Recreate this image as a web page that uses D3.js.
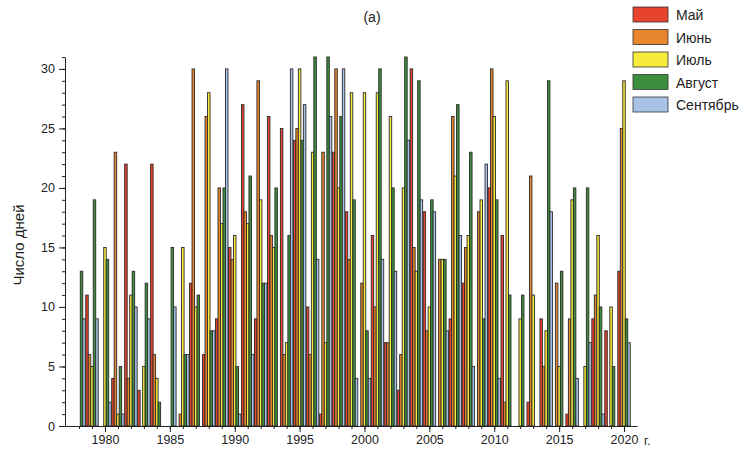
<!DOCTYPE html>
<html lang="ru">
<head>
    <meta charset="UTF-8">
    <title>Число дней по месяцам</title>
    <script src="https://d3js.org/d3.v7.min.js"></script>
    <style>
        body {
            margin: 0;
            background: #fff;
            font-family: "Liberation Sans", Arial, sans-serif;
        }
        svg {
            display: block;
        }
    </style>
</head>
<body>
    <div id="container"></div>

    <script>
        // years on the x axis
        const years = d3.range(1978, 2021);

        // months shown in the legend
        const months = ['Май', 'Июнь', 'Июль', 'Август', 'Сентябрь'];

        // number of days per year, one array per month
        const may = [0,11,0,4,22,3,22,0,0,12,6,9,15,27,9,26,25,24,10,1,23,18,0,16,7,3,30,18,0,9,12,0,20,16,0,2,9,0,1,0,9,8,13];
        const june = [0,6,0,23,4,0,6,0,1,30,26,20,14,18,29,16,6,25,6,23,30,14,12,10,7,6,15,8,14,26,15,18,30,2,0,21,5,12,9,0,11,0,25];
        const july = [0,5,15,1,11,5,4,0,15,10,28,17,16,17,19,15,7,30,23,7,20,28,28,28,26,20,13,10,14,21,16,19,26,29,9,11,8,5,19,5,16,10,29];
        const august = [13,19,14,5,13,12,2,15,6,11,8,20,5,21,12,20,16,24,31,31,26,19,8,30,20,31,29,19,14,27,23,9,19,11,11,0,29,13,20,20,10,5,9];
        const september = [9,9,2,1,10,9,0,10,6,0,8,30,1,6,12,0,30,27,14,26,30,4,4,14,13,24,19,18,8,16,5,22,4,0,0,0,18,0,4,7,1,0,7];

        // axis ticks
        const yMajor = [0, 5, 10, 15, 20, 25, 30];
        const xMajor = [1980, 1985, 1990, 1995, 2000, 2005, 2010, 2015, 2020];

        const colors = ['#e8432d', '#e8862e', '#f7eb3b', '#3d8f3d', '#a7c3e6'];
        const series = [may, june, july, august, september];

        const width = 753, height = 452;

        const svg = d3.select('#container').append('svg')
            .attr('width', width)
            .attr('height', height);

        // scales
        const x = d3.scaleLinear()
            .domain([1976.92, 2021.0])
            .range([65, 637]);

        const y = d3.scaleLinear()
            .domain([0, 31])
            .range([426, 57]);

        const barW = 2.5;

        // bars, one group per month
        series.forEach(function(values, m) {
            svg.append('g')
                .selectAll('rect')
                .data(values.map(function(v, i) { return {year: years[i], value: v}; })
                    .filter(function(d) { return d.value > 0; }))
                .enter()
                .append('rect')
                .attr('x', function(d) { return x(d.year) + (m - 2.5) * barW; })
                .attr('y', function(d) { return y(d.value); })
                .attr('width', barW)
                .attr('height', function(d) { return y(0) - y(d.value); })
                .attr('fill', colors[m])
                .attr('stroke', '#2a2a2a')
                .attr('stroke-width', 0.9);
        });

        // y axis: minor and major ticks
        svg.append('g')
            .attr('transform', 'translate(65,0)')
            .call(d3.axisLeft(y).tickValues(d3.range(0, 32)).tickSize(3).tickFormat(''))
            .call(g => g.select('.domain').remove());

        svg.append('g')
            .attr('transform', 'translate(65,0)')
            .call(d3.axisLeft(y).tickValues(yMajor).tickSize(6).tickSizeOuter(0).tickPadding(4));

        // x axis: minor and major ticks
        svg.append('g')
            .attr('transform', 'translate(0,426)')
            .call(d3.axisBottom(x).tickValues(years).tickSize(3).tickFormat(''))
            .call(g => g.select('.domain').remove());

        svg.append('g')
            .attr('transform', 'translate(0,426)')
            .call(d3.axisBottom(x).tickValues(xMajor).tickSize(6).tickSizeOuter(0).tickFormat(d3.format('d')).tickPadding(3));

        svg.selectAll('.tick text')
            .attr('font-size', 12.5)
            .attr('font-family', '"Liberation Sans", Arial, sans-serif')
            .attr('fill', '#222');

        svg.selectAll('.domain, .tick line')
            .attr('stroke', '#222');

        // unit on the x axis
        svg.append('text')
            .attr('x', 644)
            .attr('y', 445)
            .attr('font-size', 12.5)
            .attr('fill', '#222')
            .text('г.');

        // y axis title
        svg.append('text')
            .attr('transform', 'translate(24,245) rotate(-90)')
            .attr('text-anchor', 'middle')
            .attr('font-size', 15)
            .attr('fill', '#222')
            .text('Число дней');

        // title
        svg.append('text')
            .attr('x', 372)
            .attr('y', 22)
            .attr('text-anchor', 'middle')
            .attr('font-size', 14)
            .attr('fill', '#222')
            .text('(a)');

        // legend
        const legend = svg.append('g');
        months.forEach(function(name, i) {
            legend.append('rect')
                .attr('x', 633)
                .attr('y', 7 + i * 22.5)
                .attr('width', 35)
                .attr('height', 15)
                .attr('fill', colors[i])
                .attr('stroke', '#333')
                .attr('stroke-width', 0.8);
            legend.append('text')
                .attr('x', 676)
                .attr('y', 20 + i * 22.5)
                .attr('font-size', 14)
                .attr('fill', '#222')
                .text(name);
        });
    </script>
</body>
</html>
